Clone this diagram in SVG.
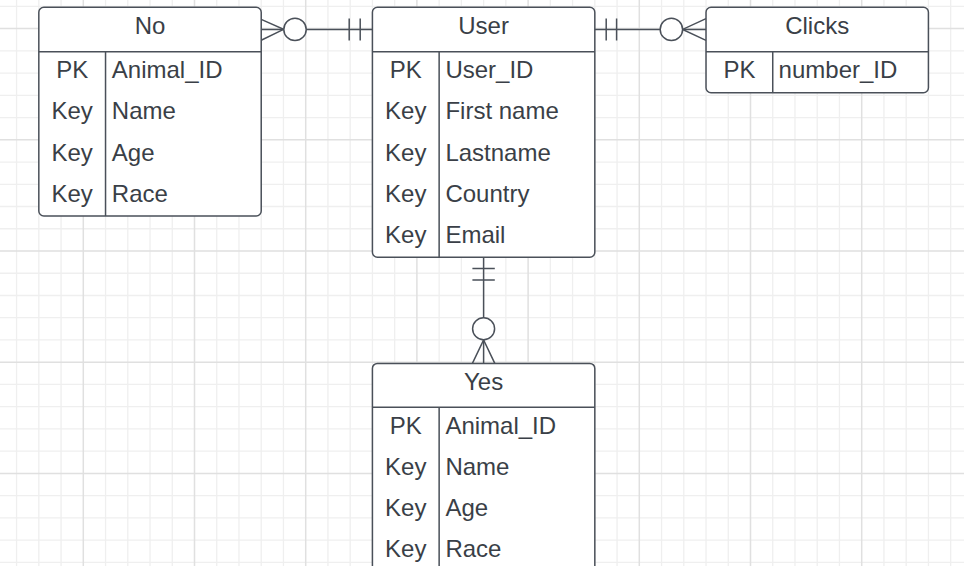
<svg xmlns="http://www.w3.org/2000/svg" width="964" height="566" viewBox="0 0 964 566">
<style>
.minor{stroke:#efefef;stroke-width:1.3;fill:none}
.major{stroke:#e0e0e0;stroke-width:1.5;fill:none}
.box{fill:#ffffff;stroke:#4a5059;stroke-width:1.5}
.ln{stroke:#4a5059;stroke-width:1.5;fill:none}
.conn{stroke:#4a5059;stroke-width:1.5;fill:none}
.circ{stroke:#4a5059;stroke-width:1.5;fill:#ffffff}
text{font-family:"Liberation Sans",Arial,sans-serif;font-size:24px;fill:#3a3f47}
.c{text-anchor:middle}
</style>
<rect width="964" height="566" fill="#ffffff"/>
<g id="grid">
<path class="minor" d="M16.58 0V566M38.82 0V566M61.06 0V566M105.54 0V566M127.78 0V566M150.02 0V566M172.26 0V566M216.74 0V566M238.98 0V566M261.22 0V566M283.46 0V566M327.94 0V566M350.18 0V566M372.42 0V566M394.66 0V566M439.14 0V566M461.38 0V566M483.62 0V566M505.86 0V566M550.34 0V566M572.58 0V566M594.82 0V566M617.06 0V566M661.54 0V566M683.78 0V566M706.02 0V566M728.26 0V566M772.74 0V566M794.98 0V566M817.22 0V566M839.46 0V566M883.94 0V566M906.18 0V566M928.42 0V566M950.66 0V566
M0 6.36H964M0 50.84H964M0 73.08H964M0 95.32H964M0 117.56H964M0 162.04H964M0 184.28H964M0 206.52H964M0 228.76H964M0 273.24H964M0 295.48H964M0 317.72H964M0 339.96H964M0 384.44H964M0 406.68H964M0 428.92H964M0 451.16H964M0 495.64H964M0 517.88H964M0 540.12H964M0 562.36H964"/>
<path class="major" d="M83.3 0V566M194.5 0V566M305.7 0V566M416.9 0V566M528.1 0V566M639.3 0V566M750.5 0V566M861.7 0V566M0 28.6H964M0 139.8H964M0 251H964M0 362.2H964M0 473.4H964"/>
</g>
<g id="connectors">
<!-- No - User -->
<path class="conn" d="M261.2 29.4H372.4"/>
<path class="conn" d="M261.2 19.4L283.6 29.4L261.2 40.2"/>
<circle class="circ" cx="295" cy="29.4" r="11.2"/>
<path class="conn" d="M349.2 18.4V40.4M360.2 18.4V40.4"/>
<!-- User - Clicks -->
<path class="conn" d="M594.8 29.4H706"/>
<path class="conn" d="M606.2 18.4V40.4M616.6 18.4V40.4"/>
<path class="conn" d="M706 18.6L682.6 29.4L706 40.4"/>
<circle class="circ" cx="671.4" cy="29.4" r="11.2"/>
<!-- User - Yes -->
<path class="conn" d="M483.6 257.2V363.4"/>
<path class="conn" d="M472.4 268.4H494.8M472.4 280H494.8"/>
<path class="conn" d="M472.4 363.4L483.6 340L494.8 363.4"/>
<circle class="circ" cx="483.6" cy="328.8" r="11"/>
</g>
<g id="No">
<rect class="box" x="38.82" y="7.3" width="222.4" height="208.7" rx="5"/>
<path class="ln" d="M38.82 51.7H261.22M105.54 51.7V216"/>
<text class="c" x="150" y="34.3">No</text>
<text class="c" x="72.2" y="78.3">PK</text><text x="111.8" y="78.3">Animal_ID</text>
<text class="c" x="72.2" y="119.4">Key</text><text x="111.8" y="119.4">Name</text>
<text class="c" x="72.2" y="160.5">Key</text><text x="111.8" y="160.5">Age</text>
<text class="c" x="72.2" y="201.6">Key</text><text x="111.8" y="201.6">Race</text>
</g>
<g id="User">
<rect class="box" x="372.42" y="7.3" width="222.4" height="249.9" rx="5"/>
<path class="ln" d="M372.42 51.7H594.82M439.14 51.7V257.2"/>
<text class="c" x="483.6" y="34.3">User</text>
<text class="c" x="405.8" y="78.3">PK</text><text x="445.4" y="78.3">User_ID</text>
<text class="c" x="405.8" y="119.4">Key</text><text x="445.4" y="119.4">First name</text>
<text class="c" x="405.8" y="160.5">Key</text><text x="445.4" y="160.5">Lastname</text>
<text class="c" x="405.8" y="201.6">Key</text><text x="445.4" y="201.6">Country</text>
<text class="c" x="405.8" y="242.7">Key</text><text x="445.4" y="242.7">Email</text>
</g>
<g id="Clicks">
<rect class="box" x="706.02" y="7.3" width="222.4" height="85.5" rx="5"/>
<path class="ln" d="M706.02 51.7H928.42M772.74 51.7V92.8"/>
<text class="c" x="817.2" y="34.3">Clicks</text>
<text class="c" x="739.4" y="78.3">PK</text><text x="778.6" y="78.3">number_ID</text>
</g>
<g id="Yes">
<rect class="box" x="372.42" y="363.4" width="222.4" height="240" rx="5"/>
<path class="ln" d="M372.42 407.2H594.82M439.14 407.2V600"/>
<text class="c" x="483.6" y="390.3">Yes</text>
<text class="c" x="405.8" y="434">PK</text><text x="445.4" y="434">Animal_ID</text>
<text class="c" x="405.8" y="475.1">Key</text><text x="445.4" y="475.1">Name</text>
<text class="c" x="405.8" y="516.2">Key</text><text x="445.4" y="516.2">Age</text>
<text class="c" x="405.8" y="557.3">Key</text><text x="445.4" y="557.3">Race</text>
</g>
</svg>
